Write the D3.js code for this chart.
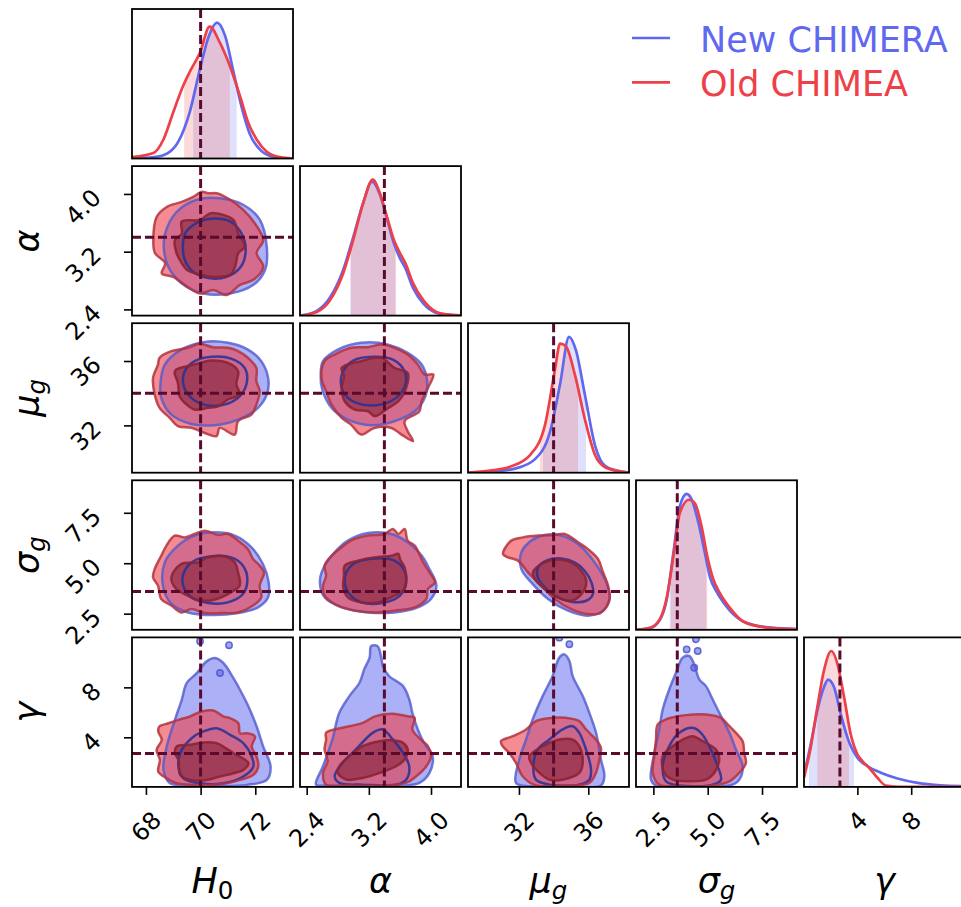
<!DOCTYPE html>
<html>
<head>
<meta charset="utf-8">
<script src="https://cdn.jsdelivr.net/npm/d3@7"></script>
<style>
  body { margin: 0; background: #fff; }
  svg { display: block; font-family: 'DejaVu Sans', sans-serif; }
</style>
</head>
<body>
<svg id="chart" width="961" height="907"></svg>
<script>
// parameters: H0, alpha, mu_g, sigma_g, gamma
const labelMain = ['H', 'α', 'μ', 'σ', 'γ'];
const labelSub = ['0', '', 'g', 'g', ''];
const paramRanges = [[67.49, 73.38], [2.314, 4.386], [29.06, 38.35], [1.70, 9.11], [0.03, 12.0]];
const truthValues = [70, 3.4, 34, 3.6, 2.7];
const tickValues = [[68, 70, 72], [2.4, 3.2, 4.0], [32, 36], [2.5, 5.0, 7.5], [4, 8]];
const tickLabels = [['68', '70', '72'], ['2.4', '3.2', '4.0'], ['32', '36'], ['2.5', '5.0', '7.5'], ['4', '8']];
const seriesNames = ['New CHIMERA', 'Old CHIMEA'];

// 1D marginals, [value, density]
const newMarginals = [
  [[67.49,0],[68.3,0.01],[68.8,0.04],[69.2,0.13],[69.6,0.34],[70.0,0.68],[70.3,0.9],[70.6,1.0],[70.9,0.9],[71.2,0.64],[71.5,0.38],[71.8,0.18],[72.2,0.06],[72.6,0.015],[73.0,0.003],[73.38,0]],
  [[2.314,0],[2.53,0.035],[2.70,0.133],[2.87,0.335],[3.0,0.576],[3.13,0.83],[3.24,0.98],[3.34,0.89],[3.43,0.717],[3.52,0.532],[3.60,0.421],[3.67,0.347],[3.77,0.20],[3.90,0.089],[4.07,0.02],[4.24,0.005],[4.386,0]],
  [[29.06,0],[30.62,0.01],[31.77,0.03],[32.93,0.1],[33.79,0.3],[34.37,0.65],[34.89,1.0],[35.29,0.9],[35.81,0.57],[36.39,0.2],[36.97,0.05],[37.83,0.01],[38.35,0]],
  [[1.70,0],[2.34,0.012],[2.80,0.074],[3.11,0.22],[3.42,0.565],[3.72,0.91],[4.03,1.0],[4.26,0.96],[4.57,0.79],[4.87,0.565],[5.10,0.39],[5.41,0.28],[5.87,0.17],[6.49,0.074],[7.41,0.025],[9.05,0.005]],
  [[0.03,0.091],[0.53,0.314],[1.02,0.56],[1.52,0.734],[1.82,0.789],[2.26,0.734],[2.76,0.536],[3.26,0.363],[4.0,0.215],[4.74,0.153],[5.74,0.104],[6.98,0.062],[8.47,0.03],[10.2,0.012],[12.0,0.006]]
];
const oldMarginals = [
  [[67.49,0.01],[68.27,0.04],[68.64,0.14],[69.0,0.34],[69.35,0.53],[69.61,0.64],[69.98,0.78],[70.33,0.97],[70.71,0.85],[71.07,0.68],[71.44,0.46],[71.75,0.26],[72.05,0.14],[72.42,0.05],[72.9,0.01],[73.38,0]],
  [[2.314,0],[2.53,0.027],[2.70,0.113],[2.87,0.31],[3.0,0.557],[3.13,0.83],[3.25,0.995],[3.34,0.90],[3.43,0.73],[3.52,0.557],[3.60,0.458],[3.67,0.384],[3.77,0.236],[3.90,0.113],[4.07,0.027],[4.24,0.007],[4.386,0.002]],
  [[29.06,0],[30.33,0.015],[31.48,0.044],[32.64,0.13],[33.50,0.35],[34.08,0.76],[34.37,0.95],[34.71,0.93],[35.23,0.72],[35.81,0.39],[36.39,0.13],[36.97,0.04],[37.83,0.01],[38.35,0]],
  [[1.70,0],[2.34,0.015],[2.80,0.079],[3.11,0.233],[3.42,0.54],[3.72,0.86],[4.14,0.957],[4.41,0.93],[4.72,0.76],[4.98,0.54],[5.26,0.37],[5.56,0.27],[6.03,0.16],[6.64,0.061],[7.56,0.02],[9.05,0.005]],
  [[0.03,0.067],[0.53,0.29],[1.02,0.586],[1.52,0.858],[2.06,0.999],[2.51,0.907],[3.01,0.66],[3.50,0.388],[4.0,0.24],[4.37,0.19],[4.87,0.141],[5.49,0.067],[6.11,0.01],[7.23,0],[12.0,0]]
];
const newIntervals = [[69.73, 71.32], [2.96, 3.54], [33.39, 35.87], [3.25, 4.93], [0.40, 3.75]];
const oldIntervals = [[69.40, 71.07], [2.97, 3.55], [33.21, 35.41], [3.30, 4.98], [1.02, 3.38]];

// 2D panels as [row, col]
const pairs = [[1,0],[2,0],[2,1],[3,0],[3,1],[3,2],[4,0],[4,1],[4,2],[4,3]];

const newOuter = [
  [[68.70,3.45],[69.12,3.75],[69.86,3.92],[70.71,3.94],[71.56,3.85],[72.17,3.64],[72.42,3.27],[72.36,2.95],[71.93,2.74],[71.08,2.62],[70.10,2.62],[69.31,2.76],[68.82,2.99],[68.66,3.22]],
  [[68.69,35.78],[69.29,36.71],[70.15,37.19],[71.0,37.13],[71.73,36.71],[72.22,35.99],[72.47,34.95],[72.44,34.02],[72.1,33.09],[71.37,32.36],[70.51,32.01],[69.66,32.09],[68.93,32.67],[68.56,33.71],[68.54,34.75]],
  [[2.61,35.99],[2.80,36.71],[3.10,37.13],[3.45,37.02],[3.70,36.51],[3.88,35.78],[3.95,34.75],[3.92,33.71],[3.79,32.88],[3.53,32.26],[3.23,32.01],[2.93,32.36],[2.72,33.09],[2.60,34.23],[2.58,35.16]],
  [[68.69,5.04],[69.17,5.87],[69.78,6.37],[70.51,6.53],[71.25,6.37],[71.86,5.79],[72.28,4.96],[72.49,4.05],[72.47,3.31],[72.1,2.81],[71.37,2.53],[70.39,2.43],[69.54,2.56],[68.93,2.98],[68.62,3.89]],
  [[2.61,4.71],[2.76,5.54],[2.93,6.12],[3.19,6.50],[3.49,6.45],[3.70,6.04],[3.88,5.38],[3.98,4.71],[4.07,3.89],[4.00,3.23],[3.83,2.81],[3.53,2.56],[3.19,2.56],[2.85,2.81],[2.63,3.31],[2.57,4.05]],
  [[32.14,5.54],[32.71,6.12],[33.48,6.40],[34.44,6.37],[35.41,5.95],[36.37,5.04],[37.04,4.05],[37.23,3.23],[36.85,2.65],[35.98,2.40],[34.83,2.65],[33.68,3.23],[32.71,4.05],[32.14,4.71]],
  [[68.64,1.39],[68.76,3.26],[69.06,5.40],[69.31,7.00],[69.49,8.34],[69.86,9.14],[70.22,10.08],[70.53,10.35],[70.83,9.95],[71.2,8.74],[71.44,7.81],[71.75,6.47],[72.05,4.87],[72.29,3.26],[72.56,1.66],[72.42,0.59],[71.69,0.19],[70.71,0.11],[69.49,0.19],[68.88,0.32]],
  [[2.52,0.21],[2.61,1.68],[2.73,3.82],[2.82,5.96],[2.95,7.30],[3.08,8.37],[3.14,9.44],[3.21,10.38],[3.23,11.31],[3.31,11.31],[3.36,10.38],[3.38,9.71],[3.46,8.91],[3.64,8.10],[3.72,7.03],[3.76,5.96],[3.83,4.63],[3.91,3.56],[4.02,2.49],[3.98,1.15],[3.85,0.35],[3.68,0.14],[3.12,0.14],[2.65,0.14]],
  [[31.83,0.35],[32.02,2.22],[32.41,3.82],[32.79,5.43],[33.37,7.30],[33.94,8.90],[34.33,10.38],[34.62,10.64],[34.91,10.11],[35.10,8.90],[35.68,7.30],[36.06,5.96],[36.45,4.36],[36.73,2.22],[36.93,0.88],[36.73,0.14],[34.52,0.08],[32.60,0.08]],
  [[2.39,0.61],[2.54,2.75],[2.77,4.63],[2.93,6.23],[3.23,7.83],[3.54,9.17],[3.85,10.38],[4.15,10.51],[4.38,9.84],[4.61,8.64],[4.92,8.10],[5.23,7.03],[5.61,5.70],[6.00,4.36],[6.30,3.02],[6.61,1.68],[6.45,0.61],[6.00,0.14],[3.69,0.08],[2.62,0.14]]
];
const newInner = [
  [[69.43,3.45],[69.86,3.60],[70.47,3.66],[71.08,3.62],[71.50,3.45],[71.65,3.22],[71.47,2.99],[70.95,2.85],[70.34,2.83],[69.73,2.92],[69.40,3.11]],
  [[69.42,35.37],[69.78,35.99],[70.39,36.26],[71.12,36.15],[71.61,35.57],[71.70,34.75],[71.43,33.81],[70.76,33.25],[70.03,33.34],[69.54,33.92],[69.36,34.64]],
  [[2.87,35.37],[3.00,36.03],[3.25,36.26],[3.51,36.09],[3.66,35.37],[3.67,34.54],[3.55,33.71],[3.30,33.25],[3.04,33.40],[2.89,33.92],[2.84,34.64]],
  [[69.39,4.55],[69.72,5.08],[70.39,5.34],[71.12,5.29],[71.55,4.88],[71.71,4.22],[71.55,3.47],[71.0,3.06],[70.27,3.03],[69.66,3.31],[69.36,3.89]],
  [[2.91,4.55],[3.02,5.01],[3.28,5.24],[3.53,5.13],[3.66,4.63],[3.68,4.05],[3.60,3.39],[3.38,3.03],[3.10,3.06],[2.95,3.47],[2.89,4.05]],
  [[33.10,4.79],[33.58,5.13],[34.44,5.24],[35.21,5.04],[35.79,4.63],[36.18,4.05],[36.27,3.47],[35.89,3.14],[35.02,3.09],[34.06,3.39],[33.39,3.89],[33.06,4.38]],
  [[69.25,2.73],[69.67,3.93],[70.10,4.47],[70.59,4.73],[71.08,4.20],[71.56,3.53],[71.87,2.46],[71.93,1.66],[71.56,0.86],[70.83,0.32],[69.98,0.32],[69.37,0.72],[69.19,1.66]],
  [[2.76,0.88],[2.86,1.95],[3.03,3.02],[3.25,4.36],[3.38,4.63],[3.51,3.82],[3.64,2.75],[3.72,1.68],[3.68,0.61],[3.55,0.21],[3.12,0.21],[2.82,0.35]],
  [[33.08,3.02],[33.75,3.82],[34.52,4.63],[35.10,4.89],[35.48,4.36],[35.87,3.02],[36.16,1.42],[36.06,0.61],[35.48,0.21],[33.75,0.21],[32.98,0.61],[32.83,1.68]],
  [[2.93,1.68],[3.23,3.29],[3.69,4.36],[4.31,4.76],[4.69,4.36],[5.07,3.29],[5.46,1.68],[5.61,0.61],[5.23,0.21],[3.69,0.14],[3.08,0.48]]
];
const oldOuter = [
  [[68.39,3.68],[68.76,3.82],[69.31,3.89],[69.73,3.96],[70.04,4.03],[70.28,4.01],[70.59,4.01],[71.08,3.92],[71.56,3.78],[71.99,3.59],[72.29,3.36],[72.05,3.18],[72.29,2.99],[71.93,2.81],[71.44,2.74],[70.95,2.60],[70.47,2.67],[69.98,2.62],[69.49,2.72],[69.00,2.85],[68.58,2.90],[68.70,3.04],[68.33,3.18],[68.27,3.36]],
  [[68.5,36.20],[68.93,36.61],[69.54,36.82],[69.97,37.07],[70.45,36.86],[71.0,36.82],[71.37,36.61],[71.73,36.20],[72.04,35.57],[72.04,34.75],[72.16,34.12],[72.04,33.29],[71.86,32.67],[71.37,32.26],[71.25,31.43],[70.70,31.84],[70.58,31.33],[70.15,31.53],[69.66,31.85],[69.17,31.95],[68.87,32.47],[68.5,33.09],[68.32,33.92],[68.26,34.95],[68.44,35.78]],
  [[2.63,35.99],[2.76,36.40],[2.97,36.82],[3.19,36.86],[3.36,37.02],[3.53,36.82],[3.70,36.40],[3.83,35.78],[3.92,35.16],[4.03,35.16],[3.96,34.33],[3.88,33.50],[3.85,32.88],[3.79,32.67],[3.66,32.26],[3.70,31.64],[3.77,31.02],[3.62,31.43],[3.49,31.84],[3.27,31.84],[3.10,31.43],[2.97,32.05],[2.85,32.47],[2.72,33.29],[2.65,34.12],[2.59,34.95]],
  [[68.32,4.71],[68.56,5.37],[68.75,5.87],[69.05,6.37],[69.42,6.28],[69.78,6.45],[70.15,6.61],[70.64,6.40],[71.0,6.45],[71.37,6.12],[71.73,5.70],[71.92,5.21],[72.16,4.88],[72.32,4.55],[72.16,3.89],[72.22,3.31],[71.92,2.90],[71.37,2.56],[70.76,2.53],[70.15,2.53],[69.66,2.73],[69.29,2.56],[68.93,2.90],[68.56,3.23],[68.44,3.89],[68.26,4.30]],
  [[2.63,4.88],[2.72,5.37],[2.85,5.79],[2.97,6.12],[3.19,6.37],[3.40,6.45],[3.51,6.70],[3.58,6.45],[3.66,6.70],[3.70,6.12],[3.79,5.87],[3.90,5.04],[3.98,4.55],[4.05,4.05],[3.96,3.72],[3.94,3.23],[3.79,2.81],[3.53,2.65],[3.27,2.56],[3.02,2.65],[2.76,2.98],[2.63,3.39],[2.61,3.89],[2.65,4.38]],
  [[31.08,5.46],[31.56,6.12],[32.23,6.28],[33.10,6.37],[34.06,6.40],[34.64,6.45],[35.41,6.04],[35.98,5.70],[36.56,5.21],[36.85,4.55],[37.14,3.89],[37.23,3.23],[36.75,2.56],[35.98,2.48],[35.02,2.73],[34.06,3.23],[33.29,3.89],[32.52,4.55],[31.94,5.13],[31.37,5.29]],
  [[68.49,4.87],[68.82,5.13],[69.19,5.40],[69.61,5.67],[70.04,6.07],[70.47,6.15],[70.83,5.67],[71.08,5.53],[71.38,5.13],[71.44,4.33],[71.69,4.33],[71.99,4.07],[71.87,3.26],[72.05,2.46],[72.11,1.66],[71.93,0.99],[71.44,0.59],[70.95,0.32],[70.34,0.19],[69.73,0.19],[69.12,0.32],[68.76,0.72],[68.45,1.26],[68.51,2.19],[68.39,2.99],[68.58,3.80],[68.45,4.47]],
  [[2.65,4.36],[2.86,4.76],[3.12,5.16],[3.29,5.70],[3.51,5.88],[3.68,5.70],[3.79,5.56],[3.76,4.63],[3.87,3.82],[3.96,3.29],[4.00,2.49],[3.94,1.68],[3.81,0.88],[3.68,0.35],[3.34,0.14],[2.91,0.14],[2.65,0.21],[2.61,1.15],[2.67,2.09],[2.63,3.02],[2.65,3.82]],
  [[30.96,3.69],[31.64,4.09],[32.41,4.63],[32.98,5.30],[33.94,5.56],[34.71,5.56],[35.48,5.30],[35.87,4.63],[36.44,3.82],[36.73,3.16],[36.64,2.22],[36.44,1.15],[36.06,0.35],[34.52,0.14],[32.98,0.14],[32.21,0.88],[31.83,1.95],[31.44,2.75],[31.06,3.29]],
  [[2.70,5.03],[3.08,5.43],[3.69,5.70],[4.31,5.83],[4.92,5.83],[5.61,5.56],[6.00,4.89],[6.30,4.36],[6.61,3.69],[6.68,2.75],[6.76,1.95],[6.45,1.15],[6.00,0.48],[5.23,0.14],[3.69,0.08],[2.77,0.21],[2.47,1.15],[2.54,2.49],[2.62,3.82]]
];
const oldInner = [
  [[69.31,3.62],[69.98,3.64],[70.34,3.73],[70.83,3.71],[71.20,3.64],[71.38,3.45],[71.62,3.27],[71.38,3.18],[71.26,2.99],[71.08,2.88],[70.47,2.85],[69.98,2.88],[69.49,2.95],[69.31,3.04],[69.12,3.18],[69.06,3.36],[69.31,3.45]],
  [[69.11,35.47],[69.78,35.78],[70.39,36.03],[71.0,35.88],[71.37,35.37],[71.31,34.54],[71.43,33.92],[71.0,33.61],[70.64,33.19],[70.27,33.09],[69.78,32.98],[69.42,33.40],[69.23,33.81],[69.17,34.64],[69.05,35.26]],
  [[2.85,35.57],[3.10,35.99],[3.36,36.20],[3.53,35.57],[3.70,35.26],[3.68,34.33],[3.58,33.50],[3.45,33.09],[3.28,32.57],[3.19,32.88],[3.02,32.98],[2.89,33.50],[2.85,34.33],[2.88,35.06]],
  [[69.29,4.96],[69.90,5.04],[70.27,5.29],[70.88,5.34],[71.25,5.04],[71.37,4.55],[71.43,3.89],[71.12,3.56],[70.76,3.31],[70.27,3.14],[69.78,3.23],[69.42,3.47],[69.11,3.72],[68.93,4.30]],
  [[2.89,4.88],[3.06,5.13],[3.27,5.29],[3.49,5.37],[3.58,5.46],[3.60,5.21],[3.66,4.79],[3.68,4.22],[3.66,3.72],[3.53,3.39],[3.32,3.06],[3.10,3.06],[2.93,3.31],[2.87,3.81],[2.88,4.38]],
  [[32.81,4.55],[33.29,4.96],[34.25,5.18],[35.02,5.04],[35.60,4.63],[35.89,4.05],[35.60,3.47],[35.02,3.14],[34.25,3.31],[33.48,3.72],[32.91,4.22]],
  [[69.12,3.26],[69.61,3.40],[70.10,3.59],[70.59,3.53],[70.83,3.26],[71.20,2.73],[71.75,1.93],[71.56,1.39],[71.20,1.12],[70.71,0.86],[70.22,0.59],[69.61,0.59],[69.25,0.99],[69.19,2.19],[69.06,2.73]],
  [[2.82,1.68],[2.95,2.49],[3.12,3.29],[3.34,3.69],[3.51,3.77],[3.64,3.56],[3.70,3.02],[3.66,2.22],[3.55,1.68],[3.34,1.15],[3.12,0.75],[2.91,0.61],[2.80,1.15]],
  [[32.60,2.49],[33.37,3.29],[34.33,3.82],[35.10,3.82],[35.48,3.29],[35.68,1.95],[35.48,1.15],[34.52,0.61],[33.75,0.61],[33.18,1.15],[32.70,1.95]],
  [[2.93,2.49],[3.39,3.29],[3.85,3.82],[4.31,4.09],[4.77,3.69],[5.38,3.02],[5.53,2.22],[5.30,1.15],[4.92,0.61],[4.15,0.48],[3.39,0.61],[3.00,1.15]]
];
// small isolated blobs of the new contours: [panel index, x, y]
const newIslands = [[6,69.98,11.69],[6,71.04,11.37],[6,70.71,9.15],[8,34.91,11.45],[8,34.33,11.98],[9,4.03,11.04],[9,4.54,10.91],[9,4.46,11.85],[9,4.38,9.57]];

// layout
const gridLeft = 132, gridTop = 9, colStep = 168, rowStep = 157.1, panelW = 161, panelH = 149.5;
const blue = '#6068ef', red = '#ee4048', truthColor = '#5a0a2d';
const tickFont = 24, labelFont = 35;

const svg = d3.select('#chart');
const xScales = paramRanges.map((r) => d3.scaleLinear().domain(r).range([0, panelW]));
const yScales = paramRanges.map((r) => d3.scaleLinear().domain(r).range([panelH, 0]));

function panelGroup(row, col) {
  const g = svg.append('g')
    .attr('transform', `translate(${gridLeft + col * colStep}, ${gridTop + row * rowStep})`);
  const clipId = `clip-${row}-${col}`;
  g.append('clipPath').attr('id', clipId)
    .append('rect').attr('width', panelW).attr('height', panelH);
  const body = g.append('g').attr('clip-path', `url(#${clipId})`);
  return { g, body };
}

function truthLines(body, row, col, horizontal) {
  const xv = xScales[col](truthValues[col]);
  body.append('line')
    .attr('x1', xv).attr('x2', xv).attr('y1', 0).attr('y2', panelH)
    .attr('stroke', truthColor).attr('stroke-width', 3).attr('stroke-dasharray', '9 4');
  if (horizontal) {
    const yv = yScales[row](truthValues[row]);
    body.append('line')
      .attr('x1', 0).attr('x2', panelW).attr('y1', yv).attr('y2', yv)
      .attr('stroke', truthColor).attr('stroke-width', 3).attr('stroke-dasharray', '9 4');
  }
}

function frame(g) {
  g.append('rect')
    .attr('width', panelW).attr('height', panelH)
    .attr('fill', 'none').attr('stroke', '#000').attr('stroke-width', 1.8);
}

// 2D panels: fills first, then outlines so the blue rings stay visible
pairs.forEach(([row, col], i) => {
  const { g, body } = panelGroup(row, col);
  const x = xScales[col];
  const y = yScales[row];
  const shape = d3.line()
    .x((d) => x(d[0]))
    .y((d) => y(d[1]))
    .curve(d3.curveCatmullRomClosed.alpha(0.5));

  body.append('path').attr('d', shape(newOuter[i]))
    .attr('fill', 'rgba(96,104,239,0.52)');
  newIslands.filter((d) => d[0] === i).forEach((d) => {
    body.append('circle')
      .attr('cx', x(d[1])).attr('cy', y(d[2])).attr('r', 3.2)
      .attr('fill', 'rgba(96,104,239,0.6)')
      .attr('stroke', 'rgba(75,85,205,0.85)').attr('stroke-width', 1.5);
  });
  body.append('path').attr('d', shape(newInner[i]))
    .attr('fill', 'rgba(70,80,210,0.15)');
  body.append('path').attr('d', shape(oldOuter[i]))
    .attr('fill', 'rgba(238,64,72,0.6)');
  body.append('path').attr('d', shape(oldInner[i]))
    .attr('fill', 'rgba(120,20,40,0.5)');

  body.append('path').attr('d', shape(newOuter[i]))
    .attr('fill', 'none').attr('stroke', 'rgba(80,90,205,0.8)').attr('stroke-width', 2.5);
  body.append('path').attr('d', shape(newInner[i]))
    .attr('fill', 'none').attr('stroke', 'rgba(35,48,150,0.85)').attr('stroke-width', 2.5);
  body.append('path').attr('d', shape(oldOuter[i]))
    .attr('fill', 'none').attr('stroke', 'rgba(180,50,62,0.85)').attr('stroke-width', 2.5);
  body.append('path').attr('d', shape(oldInner[i]))
    .attr('fill', 'none').attr('stroke', 'rgba(140,35,52,0.9)').attr('stroke-width', 2.5);

  truthLines(body, row, col, true);
  frame(g);
});

// diagonal panels
paramRanges.forEach((range, k) => {
  const { g, body } = panelGroup(k, k);
  const x = xScales[k];
  const maxDensity = d3.max([...newMarginals[k], ...oldMarginals[k]], (d) => d[1]);
  const y = d3.scaleLinear().domain([0, maxDensity * 1.1]).range([panelH, 0]);
  const line = d3.line().x((d) => x(d[0])).y((d) => y(d[1])).curve(d3.curveMonotoneX);
  const area = d3.area().x((d) => x(d[0])).y0(panelH).y1((d) => y(d[1])).curve(d3.curveMonotoneX);

  [[newMarginals[k], newIntervals[k], 'rgba(96,104,239,0.2)', 'n'],
   [oldMarginals[k], oldIntervals[k], 'rgba(238,64,72,0.2)', 'o']].forEach(([pts, iv, fill, tag]) => {
    const cid = `iv-${tag}-${k}`;
    g.append('clipPath').attr('id', cid)
      .append('rect')
      .attr('x', x(iv[0])).attr('width', x(iv[1]) - x(iv[0]))
      .attr('y', 0).attr('height', panelH);
    body.append('path').attr('d', area(pts))
      .attr('fill', fill).attr('clip-path', `url(#${cid})`);
  });

  body.append('path').attr('d', line(newMarginals[k]))
    .attr('fill', 'none').attr('stroke', blue).attr('stroke-width', 2.7);
  body.append('path').attr('d', line(oldMarginals[k]))
    .attr('fill', 'none').attr('stroke', red).attr('stroke-width', 2.7);

  truthLines(body, k, k, false);
  frame(g);
});

// axes
function styleTicks(axisG) {
  axisG.select('.domain').remove();
  axisG.selectAll('.tick line').attr('stroke', '#000').attr('stroke-width', 1.6);
  axisG.selectAll('.tick text')
    .attr('fill', '#000')
    .attr('font-size', tickFont)
    .attr('font-family', 'DejaVu Sans, sans-serif')
    .attr('x', 0).attr('y', 0).attr('dy', null).attr('dx', null)
    .attr('text-anchor', 'middle')
    .attr('dominant-baseline', 'central');
}

paramRanges.forEach((range, col) => {
  const axisG = svg.append('g')
    .attr('transform', `translate(${gridLeft + col * colStep}, ${gridTop + 4 * rowStep + panelH})`)
    .call(d3.axisBottom(xScales[col])
      .tickValues(tickValues[col])
      .tickSize(8)
      .tickFormat((v, i) => tickLabels[col][i]));
  styleTicks(axisG);
  axisG.selectAll('.tick text').each(function () {
    const ext = (this.getComputedTextLength() + 0.73 * tickFont) / Math.SQRT2;
    d3.select(this).attr('transform', `translate(0, ${23 + ext / 2}) rotate(-45)`);
  });
});

for (let row = 1; row < 5; row++) {
  const axisG = svg.append('g')
    .attr('transform', `translate(${gridLeft}, ${gridTop + row * rowStep})`)
    .call(d3.axisLeft(yScales[row])
      .tickValues(tickValues[row])
      .tickSize(8)
      .tickFormat((v, i) => tickLabels[row][i]));
  styleTicks(axisG);
  axisG.selectAll('.tick text').each(function () {
    const ext = (this.getComputedTextLength() + 0.73 * tickFont) / Math.SQRT2;
    d3.select(this).attr('transform', `translate(${-(29 + ext / 2)}, ${-7 + ext / 2}) rotate(-45)`);
  });
}

// axis labels
function writeLabel(textSel, k) {
  textSel.append('tspan').attr('font-style', 'italic').text(labelMain[k]);
  if (labelSub[k]) {
    textSel.append('tspan')
      .attr('dy', 6)
      .attr('font-size', labelFont * 0.7)
      .attr('font-style', labelSub[k] === '0' ? 'normal' : 'italic')
      .text(labelSub[k]);
  }
}

paramRanges.forEach((range, k) => {
  const t = svg.append('text')
    .attr('x', gridLeft + k * colStep + panelW / 2)
    .attr('y', 893)
    .attr('text-anchor', 'middle')
    .attr('font-size', labelFont)
    .attr('fill', '#000');
  writeLabel(t, k);
});

for (let row = 1; row < 5; row++) {
  const cy = gridTop + row * rowStep + panelH / 2;
  const t = svg.append('text')
    .attr('transform', `translate(39, ${cy}) rotate(-90)`)
    .attr('text-anchor', 'middle')
    .attr('font-size', labelFont)
    .attr('fill', '#000');
  writeLabel(t, row);
}

// legend
const legend = svg.append('g').attr('transform', 'translate(632, 38)');
[blue, red].forEach((color, i) => {
  legend.append('line')
    .attr('x1', 0).attr('x2', 38).attr('y1', i * 44.4).attr('y2', i * 44.4)
    .attr('stroke', color).attr('stroke-width', 2.6);
  legend.append('text')
    .attr('x', 68).attr('y', i * 44.4 + 13.5)
    .attr('font-size', 35)
    .attr('fill', color)
    .text(seriesNames[i]);
});
</script>
</body>
</html>
